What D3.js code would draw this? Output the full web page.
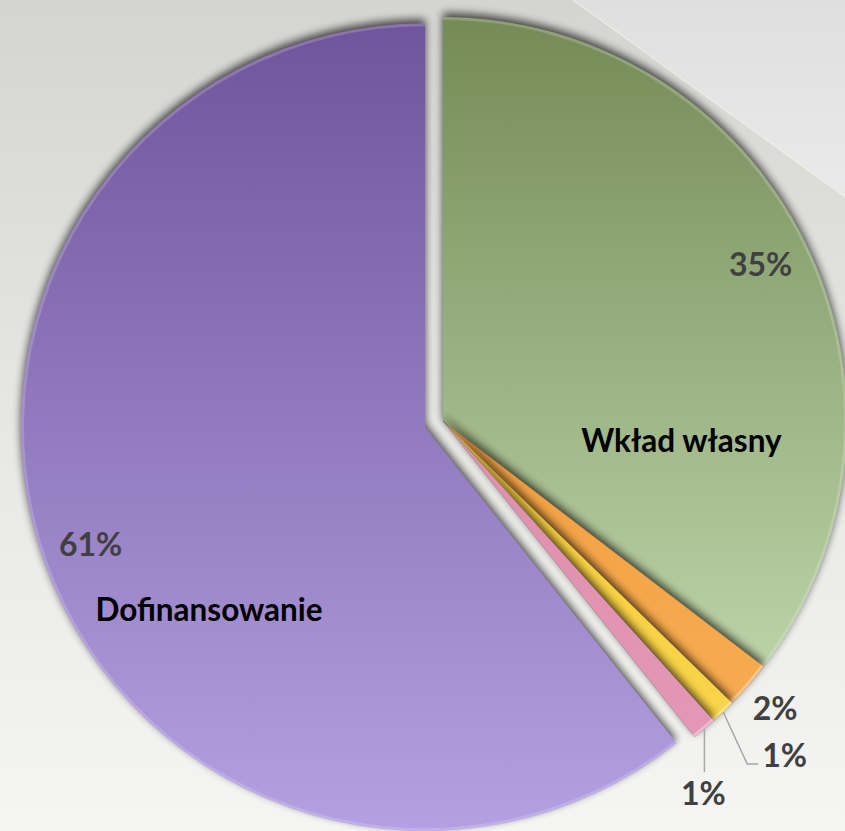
<!DOCTYPE html>
<html>
<head>
<meta charset="utf-8">
<script src="https://cdn.jsdelivr.net/npm/d3@7"></script>
<style>
  html, body { margin: 0; padding: 0; background: #e4e4e1; }
  svg { display: block; }
  text { font-family: "Lato", "Open Sans", sans-serif; font-weight: 700; }
</style>
</head>
<body>
<svg id="chart" width="845" height="831"></svg>
<script>
// Budget structure (share of total cost)
const categories = ["Wkład własny", "", "", "", "Dofinansowanie"];
const values = [35.4, 1.9, 1.0, 1.0, 60.7];
const topColors = ["#748b57", "#e88f2c", "#f0c22c", "#d7849f", "#6f559c"];
const bottomColors = ["#bcd3a8", "#f8ad52", "#fad54a", "#e497b6", "#b4a0e2"];
const gradEnd = [0.62, 0.8, 0.8, 0.8, 1.0];
const exploded = [0, 0, 0, 0, 19];

const width = 845, height = 831;
const cx = 443, cy = 421, R = 404;

const svg = d3.select("#chart");
const defs = svg.append("defs");

// page background
const bg = defs.append("linearGradient").attr("id", "bg")
  .attr("x1", 0).attr("y1", 0).attr("x2", 0).attr("y2", 1);
bg.append("stop").attr("offset", "0%").attr("stop-color", "#d4d5d1");
bg.append("stop").attr("offset", "55%").attr("stop-color", "#e8e8e5");
bg.append("stop").attr("offset", "100%").attr("stop-color", "#f5f5f4");
svg.append("rect").attr("width", width).attr("height", height).attr("fill", "url(#bg)");

const bg2 = defs.append("linearGradient").attr("id", "bg2")
  .attr("x1", 0).attr("y1", 0).attr("x2", 0).attr("y2", 1);
bg2.append("stop").attr("offset", "0%").attr("stop-color", "#dfdfdf");
bg2.append("stop").attr("offset", "100%").attr("stop-color", "#eaeaea");
svg.append("path")
  .attr("d", `M573,0 L${width},0 L${width},197 Z`)
  .attr("fill", "url(#bg2)");
svg.append("line")
  .attr("x1", 573).attr("y1", 0).attr("x2", width).attr("y2", 197)
  .attr("stroke", "#f3f3e2").attr("stroke-width", 1);

// soft shadow under the slices
const shadow = defs.append("filter").attr("id", "shadow")
  .attr("x", "-20%").attr("y", "-20%").attr("width", "140%").attr("height", "140%")
  .attr("color-interpolation-filters", "sRGB");
shadow.append("feGaussianBlur").attr("in", "SourceAlpha").attr("stdDeviation", 4.5).attr("result", "b");
shadow.append("feOffset").attr("in", "b").attr("dx", 0).attr("dy", -4).attr("result", "o");
shadow.append("feComponentTransfer").attr("in", "o").attr("result", "s")
  .append("feFuncA").attr("type", "linear").attr("slope", 0.7);
const merge = shadow.append("feMerge");
merge.append("feMergeNode").attr("in", "s");
merge.append("feMergeNode").attr("in", "SourceGraphic");

// vertical colour ramps, in the pie's local coordinates
values.forEach((v, i) => {
  const g = defs.append("linearGradient").attr("id", "grad" + i)
    .attr("gradientUnits", "userSpaceOnUse")
    .attr("x1", 0).attr("y1", -R).attr("x2", 0).attr("y2", R * gradEnd[i]);
  g.append("stop").attr("offset", "0%").attr("stop-color", topColors[i]);
  g.append("stop").attr("offset", "100%").attr("stop-color", bottomColors[i]);
});

const total = d3.sum(values);
const pct = d3.format(".0%");
const pie = d3.pie().sort(null).value(d => d);
const arcs = pie(values).map((a, i) => {
  const mid = (a.startAngle + a.endAngle) / 2;
  a.dx = Math.sin(mid) * exploded[i];
  a.dy = -Math.cos(mid) * exploded[i];
  a.mid = mid;
  return a;
});

const arc = d3.arc().innerRadius(0).outerRadius(R);
const rim = d3.arc().innerRadius(R - 3).outerRadius(R);

const pieG = svg.append("g").attr("transform", `translate(${cx},${cy})`);
const slices = pieG.selectAll("g.slice").data(arcs).join("g")
  .attr("class", "slice")
  .attr("filter", "url(#shadow)")
  .attr("transform", d => `translate(${d.dx},${d.dy})`);

slices.append("path")
  .attr("d", arc)
  .attr("fill", (d, i) => `url(#grad${i})`)
  .attr("stroke", (d, i) => (i >= 1 && i <= 3) ? "rgba(90,90,90,0.45)" : "none")
  .attr("stroke-width", 0.6);

// light bevel along the outer edge
slices.append("path")
  .attr("d", rim)
  .attr("fill", "#ffffff")
  .attr("fill-opacity", (d, i) => (i >= 1 && i <= 3) ? 0.35 : 0.18);

// value labels inside the large slices
const polar = (a, r) => [Math.sin(a) * r, -Math.cos(a) * r];

[0, 4].forEach(i => {
  const d = arcs[i];
  const [x, y] = polar(d.mid, R * 0.877);
  pieG.append("text")
    .attr("x", x + d.dx).attr("y", y + d.dy)
    .attr("text-anchor", "middle").attr("dy", "0.36em")
    .attr("font-size", 32).attr("fill", "#404040")
    .text(pct(values[i] / total));
});

// category names
const namePos = { 0: { angle: 94.6, r: 0.592 }, 4: { angle: 229.8, r: 0.700 } };
Object.keys(namePos).forEach(k => {
  const i = +k, p = namePos[k], d = arcs[i];
  const [x, y] = polar(p.angle * Math.PI / 180, R * p.r);
  pieG.append("text")
    .attr("x", x + d.dx).attr("y", y + d.dy)
    .attr("text-anchor", "middle").attr("dy", "0.36em")
    .attr("font-size", 31.5).attr("fill", "#000000")
    .text(categories[i]);
});

// small slices: labels outside, two with leader lines
{
  const d = arcs[1];
  const [x, y] = polar(d.mid, R * 1.087);
  pieG.append("text")
    .attr("x", x).attr("y", y)
    .attr("text-anchor", "middle").attr("dy", "0.36em")
    .attr("font-size", 32).attr("fill", "#404040")
    .text(pct(values[1] / total));
}
{
  const d = arcs[2];
  const [sx, sy] = polar(d.mid, R);
  const ex = sx + 24, ey = sy + 52;
  pieG.append("path")
    .attr("d", `M${sx},${sy} L${ex},${ey} L${ex + 11},${ey}`)
    .attr("fill", "none").attr("stroke", "#a6a6a6").attr("stroke-width", 1.5);
  pieG.append("text")
    .attr("x", ex + 15).attr("y", ey + 3)
    .attr("text-anchor", "start")
    .attr("font-size", 32).attr("fill", "#404040")
    .text(pct(values[2] / total));
}
{
  const d = arcs[3];
  const [sx, sy] = polar(d.mid, R);
  const ey = sy + 43;
  pieG.append("path")
    .attr("d", `M${sx},${sy} L${sx},${ey}`)
    .attr("fill", "none").attr("stroke", "#a6a6a6").attr("stroke-width", 1.5);
  pieG.append("text")
    .attr("x", sx - 1).attr("y", ey + 33)
    .attr("text-anchor", "middle")
    .attr("font-size", 32).attr("fill", "#404040")
    .text(pct(values[3] / total));
}
</script>
</body>
</html>
